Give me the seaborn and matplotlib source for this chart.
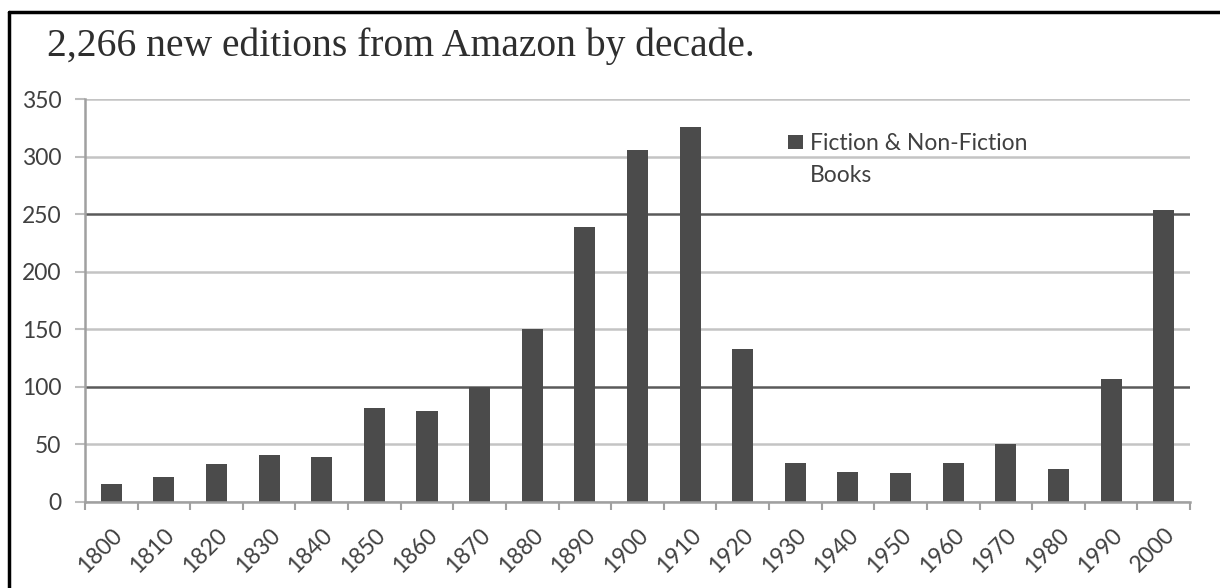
import numpy as np
import pandas as pd
import matplotlib.pyplot as plt
import seaborn as sns
from matplotlib.patches import Patch
from matplotlib.lines import Line2D

# values
decades = ['1800', '1810', '1820', '1830', '1840', '1850', '1860', '1870', '1880', '1890', '1900',
           '1910', '1920', '1930', '1940', '1950', '1960', '1970', '1980', '1990', '2000']
editions = [16, 22, 33, 41, 39, 82, 79, 100, 150, 239, 306, 326, 133, 34, 26, 25, 34, 50, 29, 107, 254]
y_ticks = [0, 50, 100, 150, 200, 250, 300, 350]
title = '2,266 new editions from Amazon by decade.'
legend_labels = ['Fiction & Non-Fiction', 'Books']

bar_color = '#4b4b4b'
text_color = '#404040'

sns.set_style('white')
plt.rcParams['font.family'] = ['Lato', 'DejaVu Sans']

df = pd.DataFrame({'decade': decades, 'editions': editions})

W, H = 1220, 588
fig = plt.figure(figsize=(W / 100, H / 100), dpi=100)
ax = fig.add_axes([85 / W, 1 - 502 / H, 1105 / W, 403 / H])

sns.barplot(data=df, x='decade', y='editions', color=bar_color, saturation=1,
            width=0.4, linewidth=0, ax=ax)

ax.set_xlim(-0.5, len(decades) - 0.5)
ax.set_ylim(0, 350)
ax.set_yticks(y_ticks)
ax.set_xlabel('')
ax.set_ylabel('')

# labels under the bars, tick marks between the categories
ax.set_xticks(range(len(decades)))
ax.set_xticklabels(decades, rotation=45, ha='right', rotation_mode='anchor')
ax.set_xticks(np.arange(-0.5, len(decades)), minor=True)
ax.tick_params(axis='x', which='major', length=0, pad=16, labelsize=16.5, labelcolor=text_color)
ax.tick_params(axis='x', which='minor', length=6, width=1.5, color='#a0a0a0', bottom=True)
ax.tick_params(axis='y', length=7, width=1.5, color='#bdbdbd', pad=10,
               labelsize=16.5, labelcolor=text_color, left=True)

ax.set_axisbelow(True)
ax.yaxis.grid(True, color='#c4c4c4', lw=1.8)
for i, gl in enumerate(ax.get_ygridlines()):
    if y_ticks[i] in (100, 250):
        gl.set_color('#5a5a5a')

for side in ['top', 'right']:
    ax.spines[side].set_visible(False)
for side in ['left', 'bottom']:
    ax.spines[side].set_color('#a0a0a0')
    ax.spines[side].set_linewidth(1.8)

handles = [Patch(facecolor=bar_color, edgecolor='none'), Patch(facecolor='none', edgecolor='none')]
ax.legend(handles, legend_labels, loc='upper left', bbox_to_anchor=(788 / W, 1 - 133 / H),
          bbox_transform=fig.transFigure, frameon=False, fontsize=16.5, labelcolor=text_color,
          handlelength=0.65, handleheight=0.62, handletextpad=0.3, labelspacing=0.5,
          borderpad=0, borderaxespad=0)

fig.text(47 / W, 1 - 56 / H, title, family=['Liberation Serif', 'DejaVu Serif'], fontsize=28.5,
         va='baseline', color='#2e2e2e')

# frame lines of the scanned page
fig.add_artist(Line2D([9 / W, 9 / W], [0, 1 - 12 / H], transform=fig.transFigure, color='black', lw=2.5))
fig.add_artist(Line2D([9 / W, 1], [1 - 12 / H, 1 - 12 / H], transform=fig.transFigure, color='black', lw=2.5))

fig.savefig('out.png', dpi=100)
